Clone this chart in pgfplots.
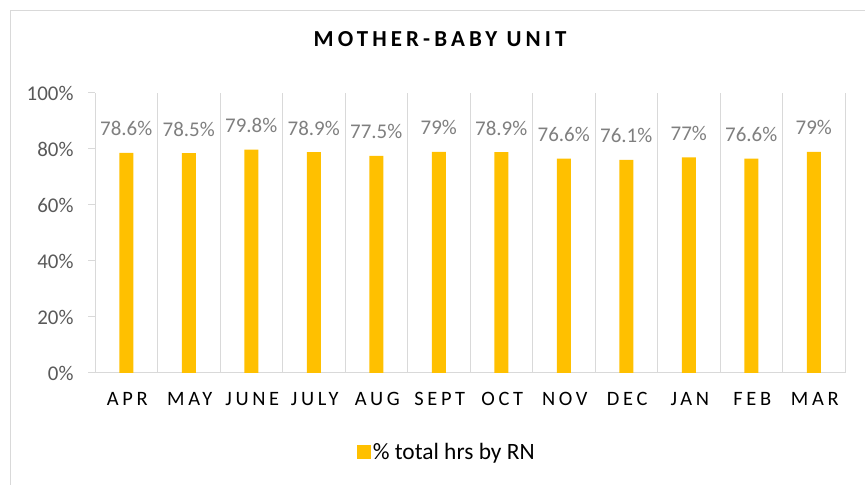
\documentclass[border=0pt]{standalone}
\usepackage{pgfplots}
\pgfplotsset{compat=1.18}
\usepackage{fontspec}
\setmainfont{Carlito}
\newfontfamily\spacedfont{Carlito}[LetterSpace=18]
\newfontfamily\titlefont{Carlito}[LetterSpace=18]

\definecolor{barc}{HTML}{FFC000}
\definecolor{gridc}{HTML}{D9D9D9}
\definecolor{labc}{HTML}{7F7F7F}
\definecolor{tickc}{HTML}{595959}

\begin{document}
\begin{tikzpicture}[x=1bp,y=1bp]
\path[use as bounding box] (0,0) rectangle (865,485);
% chart frame (only top and left edges show in the crop)
\draw[gridc, line width=1bp] (10,-20) -- (10,474) -- (900,474);

\begin{axis}[
    at={(95bp,112bp)}, anchor=south west,
    scale only axis,
    width=750bp, height=280bp,
    ymin=0, ymax=100,
    xmin=-0.5, xmax=11.5,
    axis x line*=bottom,
    axis y line*=left,
    axis line style={gridc, line width=1bp},
    ytick={0,20,...,100},
    yticklabel={\pgfmathprintnumber{\tick}\%},
    /pgf/number format/assume math mode=true,
    yticklabel style={font=\fontsize{21}{23}\selectfont, text=tickc, xshift=-11bp},
    ytick style={gridc, line width=1bp},
    tick align=outside,
    major tick length=7bp,
    xtick={0,...,11},
    xticklabels={APR,MAY,JUNE,JULY,AUG,SEPT,OCT,NOV,DEC,JAN,FEB,MAR},
    xticklabel style={font=\spacedfont\fontsize{20.5}{22}\selectfont, text=black, anchor=base, yshift=-26bp, xshift=1bp},
    xtick style={draw=none},
    minor xtick={-0.5,0.5,...,11.5},
    xminorgrids,
    minor grid style={gridc, line width=1bp},
    minor tick length=0pt,
    title={\titlefont\bfseries\fontsize{23}{26}\selectfont MOTHER-BABY UNIT},
    title style={at={(0.460,1.171)}, anchor=center},
    legend style={at={(0.469,-0.282)}, anchor=center, draw=none,
        font=\fontsize{23.5}{26}\selectfont, text=black},
    legend image code/.code={\fill[barc] (-4bp,-7bp) rectangle (10bp,7bp);},
    nodes near coords={\pgfmathprintnumber{\pgfplotspointmeta}\%},
    nodes near coords style={font=\fontsize{21}{23}\selectfont, text=labc, anchor=base, yshift=17bp},
    clip=false,
]
\addplot[ybar, bar width=14bp, fill=barc, draw=none] coordinates {
(0,78.6) (1,78.5) (2,79.8) (3,78.9) (4,77.5) (5,79)
(6,78.9) (7,76.6) (8,76.1) (9,77) (10,76.6) (11,79)
};
\addlegendentry{\% total hrs by RN}
\end{axis}
\end{tikzpicture}
\end{document}
